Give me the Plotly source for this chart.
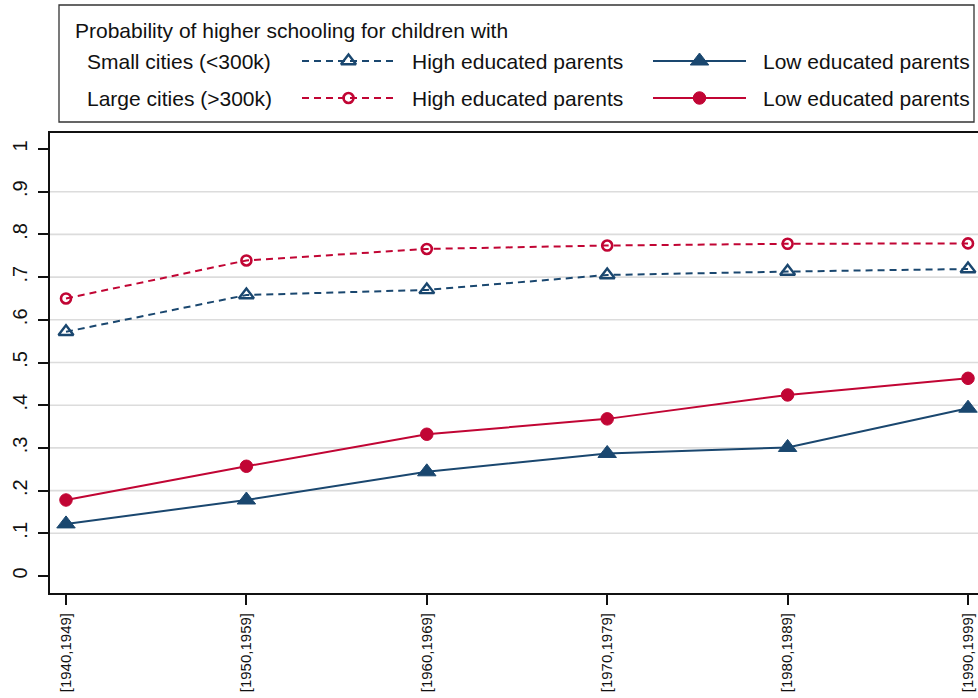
import plotly.graph_objects as go

# ---- data ----
cohorts = ["[1940,1949]", "[1950,1959]", "[1960,1969]", "[1970,1979]", "[1980,1989]", "[1990,1999]"]
high_small = [0.572, 0.658, 0.670, 0.705, 0.713, 0.719]
high_large = [0.650, 0.739, 0.766, 0.774, 0.778, 0.779]
low_small = [0.122, 0.178, 0.244, 0.287, 0.301, 0.393]
low_large = [0.178, 0.257, 0.332, 0.368, 0.424, 0.463]

y_tickvals = [0, 0.1, 0.2, 0.3, 0.4, 0.5, 0.6, 0.7, 0.8, 0.9, 1]
y_ticktext = ["0", ".1", ".2", ".3", ".4", ".5", ".6", ".7", ".8", ".9", "1"]
grid_vals = [0.1, 0.2, 0.3, 0.4, 0.5, 0.6, 0.7, 0.8, 0.9]

legend_title = "Probability of higher schooling for children with"
row_labels = ["Small cities (<300k)", "Large cities (>300k)"]
col_labels = ["High educated parents", "Low educated parents"]

NAVY = "#1a476f"
RED = "#c10534"
FONT = "Liberation Sans, Arial, sans-serif"
DASH = "7px,5px"
LEG_SIZE = 21

x_idx = list(range(len(cohorts)))

fig = go.Figure()

series = [
    (high_small, NAVY, DASH, "triangle-up-open", 13, 2.4),
    (high_large, RED, DASH, "circle-open", 10, 2.6),
    (low_small, NAVY, "solid", "triangle-up", 16, 1),
    (low_large, RED, "solid", "circle", 12.5, 1),
]
for vals, col, dash, sym, sz, lw in series:
    fig.add_trace(go.Scatter(
        x=x_idx, y=vals, mode="lines+markers",
        line=dict(color=col, width=2, dash=dash),
        marker=dict(symbol=sym, size=sz, color=col, line=dict(color=col, width=lw)),
        showlegend=False, hoverinfo="skip", cliponaxis=False,
    ))

# ---- custom legend drawn on auxiliary axes (pixel-like coordinates) ----
leg_rows_y = [61, 98]
sample_cols = [(302, 395), (653, 746)]
text_cols_x = [410, 761]
styles = [
    [(NAVY, DASH, "triangle-up-open", 13, 2.4), (NAVY, "solid", "triangle-up", 16, 1)],
    [(RED, DASH, "circle-open", 10, 2.6), (RED, "solid", "circle", 12.5, 1)],
]
for r, yy in enumerate(leg_rows_y):
    for c, (xa, xb) in enumerate(sample_cols):
        col, dash, sym, sz, lw = styles[r][c]
        fig.add_trace(go.Scatter(
            x=[xa, xb], y=[yy, yy], mode="lines", xaxis="x2", yaxis="y2",
            line=dict(color=col, width=2, dash=dash), showlegend=False, hoverinfo="skip"))
        fig.add_trace(go.Scatter(
            x=[(xa + xb) / 2], y=[yy], mode="markers", xaxis="x2", yaxis="y2",
            marker=dict(symbol=sym, size=sz, color=col, line=dict(color=col, width=lw)),
            showlegend=False, hoverinfo="skip"))

annotations = [dict(x=73, y=30, xref="x2", yref="y2", text=legend_title, showarrow=False,
                    xanchor="left", yanchor="middle", font=dict(size=LEG_SIZE, color="#111", family=FONT))]
for r, yy in enumerate(leg_rows_y):
    annotations.append(dict(x=85, y=yy, xref="x2", yref="y2", text=row_labels[r], showarrow=False,
                            xanchor="left", yanchor="middle", font=dict(size=LEG_SIZE, color="#111", family=FONT)))
    for c, xx in enumerate(text_cols_x):
        annotations.append(dict(x=xx, y=yy, xref="x2", yref="y2", text=col_labels[c], showarrow=False,
                                xanchor="left", yanchor="middle", font=dict(size=LEG_SIZE, color="#111", family=FONT)))

shapes = [dict(type="rect", xref="x2", yref="y2", x0=59, x1=974, y0=5, y1=122,
               line=dict(color="#333", width=1.3), fillcolor="rgba(0,0,0,0)", layer="below")]
for g in grid_vals:
    shapes.append(dict(type="line", xref="paper", yref="y", x0=0, x1=1, y0=g, y1=g,
                       line=dict(color="#dcdcdc", width=1.6), layer="below"))

H_TOTAL = 698
B = 105
plot_h = H_TOTAL - B  # 593
main_top = (593 - 133) / plot_h
leg_bot = (593 - 128) / plot_h

fig.update_layout(
    width=978, height=698,
    margin=dict(l=50, r=0, t=0, b=B),
    paper_bgcolor="white", plot_bgcolor="white",
    font=dict(family=FONT, color="#111"),
    xaxis=dict(
        range=[-0.0887, 5.0554], tickvals=x_idx, ticktext=cohorts, tickangle=-90,
        ticks="outside", ticklen=10, tickwidth=1.5, tickcolor="#111",
        showline=True, linecolor="#111", linewidth=2, mirror=True,
        showgrid=False, zeroline=False, tickfont=dict(size=15, family=FONT, color="#111"),
        ticklabelstandoff=2, domain=[0, 1], anchor="y", automargin=False,
    ),
    yaxis=dict(
        range=[-0.0398, 1.0375], tickvals=y_tickvals, ticktext=y_ticktext, tickangle=-90,
        ticks="outside", ticklen=10, tickwidth=1.5, tickcolor="#111",
        showline=True, linecolor="#111", linewidth=2,
        showgrid=False, zeroline=False, tickfont=dict(size=20, family=FONT, color="#111"),
        ticklabelstandoff=3, domain=[0, main_top], anchor="x", automargin=False,
    ),
    xaxis2=dict(range=[50, 978], domain=[0, 1], visible=False, anchor="y2", fixedrange=True),
    yaxis2=dict(range=[128, 0], domain=[leg_bot, 1], visible=False, anchor="x2", fixedrange=True),
    annotations=annotations,
    shapes=shapes,
)

fig.write_html("out.html")
